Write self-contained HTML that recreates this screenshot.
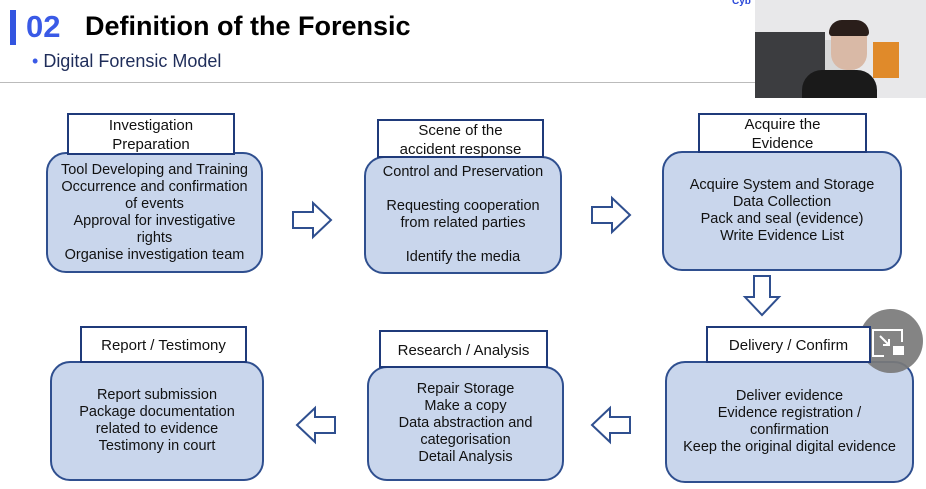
<!DOCTYPE html>
<html><head><meta charset="utf-8"><style>
body{margin:0;width:926px;height:489px;background:#fff;position:relative;overflow:hidden;font-family:"Liberation Sans",sans-serif}
.a{position:absolute}
.r{position:absolute;background:#c9d6ec;border:2px solid #2f4f8f;border-radius:20px;box-sizing:border-box;display:flex;align-items:center;justify-content:center;text-align:center;font-size:14.5px;line-height:17px;color:#111}
.t{position:absolute;background:#fff;border:2px solid #1f3a7a;box-sizing:border-box;display:flex;align-items:center;justify-content:center;text-align:center;font-size:15px;line-height:19px;color:#111;z-index:2;padding-top:2px}
</style></head><body>
<div class="a" style="left:10px;top:10px;width:6px;height:35px;background:#3355e0"></div>
<div class="a" style="left:26px;top:9px;font-size:31px;font-weight:bold;color:#3a5ae6">02</div>
<div class="a" style="left:85px;top:11px;font-size:27px;font-weight:bold;color:#000">Definition of the Forensic</div>
<div class="a" style="left:32px;top:51px;font-size:18px;color:#1f2d5a"><span style="color:#3a5ae6">•</span> Digital Forensic Model</div>
<div class="a" style="left:0;top:82px;width:760px;height:1px;background:#bbb"></div>
<div class="a" style="left:732px;top:-4px;font-size:10px;font-weight:bold;color:#2a48d8">Cyb</div>
<div class="a" style="left:755px;top:0;width:171px;height:98px;background:#e8e8ea;overflow:hidden">
 <div class="a" style="left:0;top:32px;width:70px;height:66px;background:#3c3d40"></div>
 <div class="a" style="left:70px;top:40px;width:30px;height:58px;background:#d8d8d8"></div>
 <div class="a" style="left:118px;top:42px;width:26px;height:36px;background:#e08a2a"></div>
 <div class="a" style="left:47px;top:70px;width:75px;height:30px;background:#1a1a1a;border-radius:20px 20px 0 0"></div>
 <div class="a" style="left:76px;top:22px;width:36px;height:48px;background:#d9b9a6;border-radius:16px"></div>
 <div class="a" style="left:74px;top:20px;width:40px;height:16px;background:#2a1e1a;border-radius:16px 16px 4px 4px"></div>
</div>

<div class="t" style="left:67px;top:113px;width:168px;height:42px">Investigation<br>Preparation</div>
<div class="r" style="left:46px;top:152px;width:217px;height:121px">Tool Developing and Training<br>Occurrence and confirmation<br>of events<br>Approval for investigative<br>rights<br>Organise investigation team</div>

<div class="t" style="left:377px;top:119px;width:167px;height:39px">Scene of the<br>accident response</div>
<div class="r" style="left:364px;top:156px;width:198px;height:118px">Control and Preservation<br>&nbsp;<br>Requesting cooperation<br>from related parties<br>&nbsp;<br>Identify the media</div>

<div class="t" style="left:698px;top:113px;width:169px;height:40px">Acquire the<br>Evidence</div>
<div class="r" style="left:662px;top:151px;width:240px;height:120px">Acquire System and Storage<br>Data Collection<br>Pack and seal (evidence)<br>Write Evidence List</div>

<div class="t" style="left:706px;top:326px;width:165px;height:37px">Delivery / Confirm</div>
<div class="r" style="left:665px;top:361px;width:249px;height:122px">Deliver evidence<br>Evidence registration /<br>confirmation<br>Keep the original digital evidence</div>

<div class="t" style="left:379px;top:330px;width:169px;height:38px">Research / Analysis</div>
<div class="r" style="left:367px;top:366px;width:197px;height:115px">Repair Storage<br>Make a copy<br>Data abstraction and<br>categorisation<br>Detail Analysis</div>

<div class="t" style="left:80px;top:326px;width:167px;height:37px">Report / Testimony</div>
<div class="r" style="left:50px;top:361px;width:214px;height:120px">Report submission<br>Package documentation<br>related to evidence<br>Testimony in court</div>

<svg class="a" style="left:0;top:0" width="926" height="489">
 <g fill="#fff" stroke="#2f4f8f" stroke-width="2">
  <polygon points="293,212 313,212 313,203 331,220 313,237 313,228 293,228"/>
  <polygon points="592,207 612,207 612,198 630,215 612,232 612,223 592,223"/>
  <polygon points="754,276 770,276 770,297 779,297 762,315 745,297 754,297"/>
  <polygon points="630,417 610,417 610,408 592,425 610,442 610,433 630,433"/>
  <polygon points="335,417 315,417 315,408 297,425 315,442 315,433 335,433"/>
 </g>
 <circle cx="891" cy="341" r="32" fill="#7a7a7a" opacity="0.92"/>
 <g fill="none" stroke="#fff" stroke-width="2">
  <path d="M884,356 h-11 v-26 h29 v12"/>
  <path d="M880,336 l9,9 M889,339 v6 h-6"/>
 </g>
 <rect x="893" y="346" width="11" height="9" fill="#fff"/>
</svg>
</body></html>
